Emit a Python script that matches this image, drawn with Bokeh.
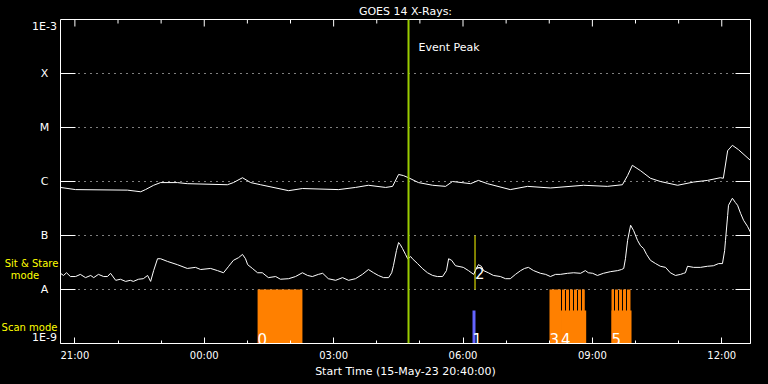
import numpy as np
from bokeh.plotting import figure
from bokeh.layouts import row
from bokeh.models import FixedTicker, Label, Span
from bokeh.core.properties import value
from bokeh.embed import file_html
from bokeh.resources import INLINE

FONT = "DejaVu Sans"

# ---- data (time in hours after start 15-May-23 20:40:00) ----
long_t = [0.00, 0.35, 1.55, 1.86, 1.97, 2.16, 2.32, 2.71, 2.94, 3.87, 4.01, 4.22, 4.41, 4.64,
          5.29, 5.61, 6.45, 6.84, 7.14, 7.54, 7.70, 7.84, 7.95, 8.07, 8.30, 8.63, 8.93, 9.09,
          9.51, 9.69, 9.90, 10.43, 10.83, 11.36, 12.13, 12.68, 13.03, 13.15, 13.26, 13.45,
          13.68, 13.91, 14.31, 14.68, 15.00, 15.30, 15.37, 15.47, 15.58, 15.72, 16.00]
long_log = [-6.11, -6.15, -6.16, -6.19, -6.15, -6.07, -6.02, -6.02, -6.04, -6.06, -6.02, -5.93,
            -6.02, -6.06, -6.17, -6.13, -6.15, -6.11, -6.07, -6.11, -6.09, -5.87, -5.89, -5.93,
            -6.02, -6.07, -6.09, -6.00, -6.04, -5.98, -6.04, -6.15, -6.09, -6.12, -6.07, -6.09,
            -6.06, -5.89, -5.70, -5.80, -5.94, -6.00, -6.07, -6.01, -5.98, -5.93, -5.94, -5.43,
            -5.33, -5.41, -5.61]

short_t = [0.00, 0.07, 0.14, 0.23, 0.35, 0.46, 0.58, 0.70, 0.77, 0.88, 1.00, 1.09, 1.16, 1.28,
           1.39, 1.51, 1.62, 1.69, 1.81, 1.92, 2.02, 2.09, 2.16, 2.25, 2.32, 2.48, 2.71, 2.94,
           3.13, 3.25, 3.48, 3.64, 3.78, 3.90, 4.01, 4.13, 4.22, 4.29, 4.34, 4.45, 4.57, 4.68,
           4.82, 4.99, 5.10, 5.29, 5.45, 5.61, 5.73, 5.84, 5.98, 6.08, 6.21, 6.38, 6.54, 6.68,
           6.84, 7.00, 7.14, 7.26, 7.37, 7.49, 7.61, 7.68, 7.72, 7.79, 7.84, 7.88, 7.93, 8.00,
           8.05, 8.12, 8.16, 8.28, 8.39, 8.51, 8.63, 8.74, 8.86, 8.95, 9.00, 9.07, 9.16, 9.34,
           9.46, 9.58, 9.62, 9.69, 9.76, 9.81, 9.92, 10.04, 10.20, 10.32, 10.43, 10.55, 10.67,
           10.76, 10.85, 10.97, 11.13, 11.25, 11.36, 11.48, 11.59, 11.76, 11.90, 12.06, 12.17,
           12.24, 12.34, 12.45, 12.59, 12.75, 12.92, 13.01, 13.06, 13.10, 13.15, 13.22, 13.29,
           13.38, 13.45, 13.52, 13.59, 13.68, 13.80, 13.91, 14.03, 14.14, 14.26, 14.38, 14.45,
           14.49, 14.54, 14.68, 14.84, 15.00, 15.14, 15.26, 15.35, 15.40, 15.42, 15.47, 15.49,
           15.58, 15.65, 15.70, 15.77, 15.84, 15.93, 16.00]
short_log = [-7.70, -7.74, -7.69, -7.76, -7.76, -7.72, -7.78, -7.74, -7.78, -7.72, -7.76, -7.76,
             -7.70, -7.83, -7.81, -7.85, -7.83, -7.85, -7.81, -7.80, -7.74, -7.85, -7.65, -7.43,
             -7.43, -7.48, -7.54, -7.61, -7.59, -7.63, -7.61, -7.65, -7.69, -7.57, -7.46, -7.41,
             -7.35, -7.43, -7.54, -7.61, -7.69, -7.69, -7.78, -7.76, -7.81, -7.80, -7.76, -7.69,
             -7.74, -7.76, -7.72, -7.70, -7.80, -7.83, -7.78, -7.83, -7.80, -7.72, -7.63, -7.69,
             -7.74, -7.78, -7.78, -7.69, -7.56, -7.28, -7.13, -7.17, -7.24, -7.35, -7.43, -7.39,
             -7.43, -7.52, -7.61, -7.69, -7.74, -7.76, -7.76, -7.65, -7.43, -7.46, -7.56, -7.59,
             -7.65, -7.72, -7.65, -7.54, -7.57, -7.65, -7.69, -7.74, -7.76, -7.80, -7.80, -7.72,
             -7.65, -7.61, -7.59, -7.65, -7.70, -7.72, -7.76, -7.72, -7.72, -7.70, -7.69, -7.70,
             -7.65, -7.69, -7.70, -7.74, -7.70, -7.67, -7.65, -7.63, -7.61, -7.43, -7.09, -6.81,
             -6.91, -7.09, -7.19, -7.24, -7.35, -7.46, -7.52, -7.57, -7.59, -7.69, -7.74, -7.72,
             -7.70, -7.69, -7.57, -7.59, -7.59, -7.57, -7.56, -7.52, -7.52, -7.28, -7.09, -6.63,
             -6.44, -6.31, -6.39, -6.44, -6.59, -6.72, -6.83, -6.94]

# scan-mode observation blocks (orange), full height up to A level
scan_full_left = [4.57, 11.339, 11.629, 11.722, 11.814, 11.907, 12.000, 12.093,
                  12.777, 12.858, 12.951, 13.043, 13.136]
scan_full_right = [5.61, 11.606, 11.698, 11.791, 11.884, 11.977, 12.070, 12.157,
                   12.835, 12.928, 13.020, 13.113, 13.217]
scan_full_top = 1e-8
# scan-mode blocks with lower top
scan_low_left = [11.606, 12.777]
scan_low_right = [12.190, 13.241]
scan_low_top = 10 ** -8.39
# blue block
blue_left = [9.554]
blue_right = [9.623]
# sit & stare marker
stare_t = [9.612]
stare_bottom = 1e-8
stare_top = 1e-7

scan_label_t = [4.57, 9.554, 11.339, 11.606, 12.777]
scan_label_text = ["0", "1", "3", "4", "5"]
stare_label_t = [9.612]
stare_label_text = ["2"]

event_peak_t = 8.07

x_major = [20/60, 3 + 20/60, 6 + 20/60, 9 + 20/60, 12 + 20/60, 15 + 20/60]
x_major_labels = ["21:00", "00:00", "03:00", "06:00", "09:00", "12:00"]
x_minor = [1 + 20/60, 2 + 20/60, 4 + 20/60, 5 + 20/60, 7 + 20/60, 8 + 20/60,
           10 + 20/60, 11 + 20/60, 13 + 20/60, 14 + 20/60]
y_levels = [1e-9, 1e-8, 1e-7, 1e-6, 1e-5, 1e-4, 1e-3]
y_labels = ["1E-9", "A", "B", "C", "M", "X", "1E-3"]
mode_labels = ["Sit & Stare", "mode", "Scan mode"]
mode_label_log = [-7.519, -7.741, -8.704]

# ---- geometry ----
T0, T1 = 0.0, 16.0
Y0, Y1 = 1e-9, 1e-3
LEFT_W = 60          # width of the left label strip
FRAME_W, FRAME_H = 690, 324
TOP_B, BOT_B, RIGHT_B = 19, 41, 18
PX_PER_H = FRAME_W / (T1 - T0)
PX_PER_DEC = FRAME_H / 6.0
TOTAL_H = TOP_B + FRAME_H + BOT_B

# ---- main figure ----
fig = figure(width=FRAME_W + RIGHT_B, height=TOTAL_H, x_range=(T0, T1), y_range=(Y0, Y1),
             y_axis_type="log", y_axis_location=None, output_backend="svg",
             toolbar_location=None, background_fill_color="black", border_fill_color="black",
             min_border_left=0, min_border_right=RIGHT_B, min_border_top=TOP_B,
             min_border_bottom=BOT_B)
fig.outline_line_color = "white"
fig.outline_line_width = 1

fig.title.text = "GOES 14 X-Rays:"
fig.title.align = "center"
fig.title.vertical_align = "top"
fig.title.text_color = "white"
fig.title.text_font = FONT
fig.title.text_font_size = "11px"
fig.title.text_font_style = "normal"
fig.title.standoff = 0
fig.title.offset = 0

# bottom axis
xa = fig.xaxis[0]
xa.ticker = FixedTicker(ticks=x_major, minor_ticks=x_minor)
xa.major_label_overrides = {t: s for t, s in zip(x_major, x_major_labels)}
xa.axis_label = "Start Time (15-May-23 20:40:00)"
xa.axis_label_text_font = FONT
xa.axis_label_text_font_size = "11px"
xa.axis_label_text_font_style = "normal"
xa.axis_label_text_color = "white"
xa.axis_label_standoff = 1
xa.major_label_text_font = FONT
xa.major_label_text_font_size = "10px"
xa.major_label_text_color = "white"
xa.major_label_standoff = 6
xa.major_tick_in = 6
xa.major_tick_out = 0
xa.minor_tick_in = 3
xa.minor_tick_out = 0
xa.axis_line_color = "white"
xa.major_tick_line_color = "white"
xa.minor_tick_line_color = "white"

# grid
fig.xgrid.visible = False
fig.ygrid.ticker = FixedTicker(ticks=y_levels[1:-1], minor_ticks=[])
fig.ygrid.grid_line_color = "white"
fig.ygrid.grid_line_dash = "1 5"
fig.ygrid.grid_line_width = 1

# inward ticks on left, right and top edges
inner = y_levels[1:-1]
fig.segment(x0=T0, y0=inner, x1=T0 + 15 / PX_PER_H, y1=inner, line_color="white", line_width=1)
fig.segment(x0=T1 - 15 / PX_PER_H, y0=inner, x1=T1, y1=inner, line_color="white", line_width=1)
fig.segment(x0=x_major, y0=Y1, x1=x_major, y1=10 ** (-3 - 7 / PX_PER_DEC),
            line_color="white", line_width=1)
fig.segment(x0=x_minor, y0=Y1, x1=x_minor, y1=10 ** (-3 - 4 / PX_PER_DEC),
            line_color="white", line_width=1)

# scan blocks
fig.quad(left=scan_full_left, right=scan_full_right, bottom=Y0, top=scan_full_top,
         fill_color="#ff8000", line_color=None)
fig.quad(left=scan_low_left, right=scan_low_right, bottom=Y0, top=scan_low_top,
         fill_color="#ff8000", line_color=None)
fig.quad(left=blue_left, right=blue_right, bottom=Y0, top=scan_low_top,
         fill_color="#6464ff", line_color=None)
fig.segment(x0=stare_t, y0=stare_bottom, x1=stare_t, y1=stare_top,
            line_color="yellow", line_width=1)

# curves
fig.line(long_t, 10 ** np.array(long_log), line_color="white", line_width=1)
fig.line(short_t, 10 ** np.array(short_log), line_color="white", line_width=1)

# event peak
fig.add_layout(Span(location=event_peak_t, dimension="height", line_color="#9acd00",
                    line_width=2))
fig.add_layout(Label(x=event_peak_t, y=10 ** -3.52, x_offset=10, text="Event Peak",
                     text_color="white", text_font=FONT, text_font_size="11px",
                     text_baseline="alphabetic"))

# scan labels
fig.text(x=scan_label_t, y=[10 ** (-9 + 5 / PX_PER_DEC)] * len(scan_label_t),
         text=scan_label_text, text_color="white", text_font=value(FONT),
         text_font_size=value("15px"), text_baseline="alphabetic", text_align="left")
fig.text(x=stare_label_t, y=[10 ** -7.70] * len(stare_label_t), text=stare_label_text,
         text_color="white", text_font=value(FONT), text_font_size=value("15px"),
         text_baseline="alphabetic", text_align="left")

# ---- left strip with the flux-class labels and mode notes ----
# (its frame is aligned with the main frame by the row layout)
side = figure(width=LEFT_W, height=TOTAL_H, x_range=(0, LEFT_W), y_range=(Y0, Y1),
              y_axis_type="log", x_axis_location=None, y_axis_location=None,
              output_backend="svg", toolbar_location=None, background_fill_color="black",
              border_fill_color="black", min_border=0)
side.outline_line_color = None
side.grid.visible = False
mid = slice(1, -1)
side.text(x=[44] * 5, y=y_levels[mid], text=y_labels[mid], text_color="white",
          text_font=value(FONT), text_font_size=value("11px"), text_align="center",
          text_baseline="middle")
side.text(x=[44], y=[Y1], text=[y_labels[-1]], text_color="white",
          text_font=value(FONT), text_font_size=value("11px"), text_align="center",
          text_baseline="top")
side.text(x=[44], y=[Y0], text=[y_labels[0]], text_color="white",
          text_font=value(FONT), text_font_size=value("11px"), text_align="center",
          text_baseline="bottom")
side.text(x=[31, 24.5, 29], y=[10 ** v for v in mode_label_log], text=mode_labels,
          text_color="yellow", text_font=value(FONT), text_font_size=value("10px"),
          text_align="center", text_baseline="alphabetic")

assert len(long_t) == len(long_log)
assert len(short_t) == len(short_log)

p = row(side, fig, spacing=0, styles={"background-color": "black"})
open("out.html", "w").write(file_html(p, INLINE))
